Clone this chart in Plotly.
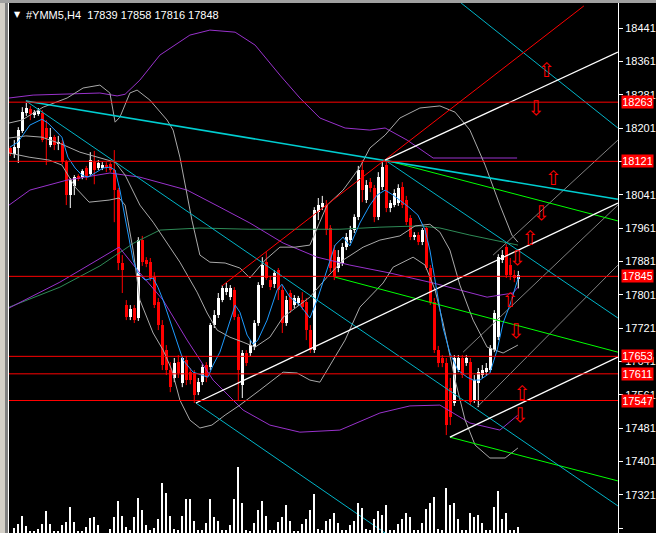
import plotly.graph_objects as go

# ---------------- data ----------------
bar_index = list(range(-1, 127))
opens = [18153,18138,18153,18194,18237,18246,18232,18234,18237,18201,
         18160,18179,18162,18165,18119,18040,18062,18086,18083,18105,
         18090,18119,18105,18105,18112,18114,18100,18052,17877,17776,
         17747,17769,17745,17932,17884,17879,17843,17783,17728,17668,
         17620,17601,17639,17589,17644,17615,17613,17567,17591,17632,
         17627,17728,17752,17788,17807,17795,17812,17747,17584,17661,
         17661,17675,17733,17824,17879,17836,17826,17860,17812,17733,
         17805,17776,17781,17788,17783,17716,17668,17999,18011,18016,
         17961,17908,17865,17877,17915,17932,17956,17987,18100,18028,
         18071,18057,17987,18059,18112,18009,18016,18021,18059,18028,
         17985,17939,17944,17927,17961,17865,17783,17668,17649,17637,
         17577,17541,17620,17649,17637,17639,17548,17589,17608,17615,
         17620,17668,17699,17884,17915,17872,17848,17839]
closes = [18141,18155,18196,18239,18249,18234,18239,18242,18172,18177,
          18179,18160,18167,18119,18040,18076,18083,18078,18098,18083,
          18124,18100,18117,18112,18105,18100,18052,17877,17860,17747,
          17766,17740,17932,17879,17874,17841,17776,17728,17632,17620,
          17579,17637,17613,17649,17596,17596,17560,17591,17627,17603,
          17728,17752,17793,17817,17817,17817,17747,17620,17661,17637,
          17680,17733,17824,17872,17841,17819,17853,17812,17733,17788,
          17764,17793,17793,17771,17716,17668,18004,18016,18021,17956,
          17865,17843,17891,17915,17939,17956,17987,18100,18052,18064,
          18057,17987,18083,18107,18009,18021,18045,18057,18016,17975,
          17939,17944,17927,17956,17865,17783,17668,17637,17637,17488,
          17507,17649,17649,17608,17649,17543,17596,17615,17620,17625,
          17673,17757,17891,17896,17848,17848,17841,17848]
highs = [18158,18172,18203,18251,18261,18254,18244,18249,18244,18220,
         18201,18184,18182,18172,18124,18081,18088,18090,18102,18110,
         18143,18146,18124,18119,18119,18119,18148,18057,17896,17788,
         17776,17776,17939,17942,17891,17889,17855,17793,17740,17680,
         17639,17649,17656,17654,17654,17625,17620,17601,17634,17639,
         17733,17764,17805,17824,17829,17824,17819,17754,17668,17668,
         17692,17740,17831,17891,17903,17846,17860,17865,17824,17798,
         17812,17800,17798,17807,17793,17728,18011,18033,18038,18028,
         17968,17920,17908,17925,17949,17966,17994,18110,18124,18076,
         18081,18064,18095,18119,18124,18028,18054,18066,18071,18038,
         17992,17951,17951,17961,17966,17872,17793,17678,17656,17649,
         17601,17656,17656,17656,17656,17649,17608,17625,17632,17637,
         17680,17764,17898,17908,17922,17889,17860,17858]
lows = [18134,18129,18117,18189,18230,18220,18225,18230,18167,18112,
        18155,18148,18148,18114,18016,18009,18040,18074,18078,18076,
        18086,18066,18100,18100,18095,18095,17975,17860,17805,17740,
        17740,17733,17738,17870,17867,17834,17769,17716,17620,17608,
        17567,17591,17601,17579,17584,17586,17541,17560,17584,17591,
        17620,17721,17745,17783,17800,17788,17740,17548,17553,17630,
        17654,17668,17726,17817,17836,17812,17817,17788,17709,17726,
        17757,17769,17774,17764,17692,17661,17661,17980,18004,17944,
        17855,17836,17855,17870,17908,17925,17949,17980,18023,18021,
        18047,17975,17980,18052,17999,17999,18011,18014,18009,17968,
        17932,17932,17920,17920,17860,17776,17661,17627,17627,17464,
        17488,17534,17615,17601,17630,17536,17541,17531,17601,17608,
        17615,17663,17692,17877,17841,17836,17831,17816]

volume_index = list(range(0, 127))
volumes = [5,9,17,7,2,2,4,9,22,9,2,2,8,11,26,11,2,2,6,15,
           16,8,0,0,4,16,32,17,6,3,16,35,23,8,3,5,14,50,40,17,
           4,3,17,34,34,12,3,3,10,34,16,12,3,3,8,34,66,30,3,2,
           10,23,32,17,3,3,11,16,28,12,2,2,9,14,23,39,4,3,12,
           14,20,10,3,3,8,12,30,25,4,3,14,22,18,28,3,3,9,14,20,
           16,3,3,10,24,30,36,4,3,45,28,30,14,3,3,20,16,18,10,3,
           3,26,42,14,20,3,3,6]

levels = [18263, 18121, 17845, 17653, 17611, 17547]
tick_prices = [17241,17321,17401,17481,17561,17641,17721,17801,
               17881,17961,18041,18121,18201,18281,18361,18441]
# 18121 tick text is covered by the 18121 level label, as in the original
tick_labels = ["17241","17321","17401","17481","17561","17641","17721","17801",
               "17881","17961","18041","","18201","18281","18361","18441"]

# indicator curves (bar index, price)
blue_x = [-1.1,0.9,3.9,6.9,8.4,11.9,13.4,15.2,16.9,18.4,20.2,22.2,23.9,25.2,26.4,28.2,29.7,30.9,32.7,34.7,
          35.9,37.2,39.7,42.2,44.7,47.2,48.4,49.7,51.4,53.2,55.2,56.4,58.2,59.7,60.9,63.2,65.7,66.9,68.9,71.4,
          73.9,75.7,78.2,80.2,82.2,83.9,86.4,88.9,90.7,92.7,94.7,96.4,98.9,100.9,102.7,103.9,105.7,107.2,108.9,110.9,
          113.2,114.7,116.4,118.9,120.7,122.2,123.9,125.7,126.2]
blue_p = [18155,18167,18208,18222,18213,18179,18131,18105,18088,18083,18093,18105,18107,18100,18052,17956,17884,17853,17836,17841,
          17819,17788,17716,17644,17615,17606,17603,17632,17663,17716,17776,17759,17704,17682,17692,17740,17812,17826,17795,17776,
          17745,17788,17860,17920,17939,17918,17973,18016,18040,18052,18040,18028,18009,17992,17956,17908,17807,17721,17661,17620,
          17603,17596,17596,17613,17668,17733,17776,17829,17848]

bb_up_x = [-1.3,1.9,7.2,13.2,17.2,21.4,23.9,25.2,26.4,28.9,30.7,33.9,38.2,39.7,41.4,43.2,44.4,46.4,48.9,52.7,
           56.4,58.9,62.7,66.4,70.2,73.9,78.2,82.2,86.4,88.9,92.7,96.4,101.4,106.4,110.2,113.9,117.7,121.4,124.4,125.9]
bb_up_p = [18213,18220,18251,18273,18297,18304,18285,18215,18227,18285,18292,18268,18220,18196,18131,18035,17980,17896,17879,17877,
           17865,17841,17884,17915,17915,17920,18016,18052,18107,18153,18184,18225,18249,18254,18239,18196,18112,18016,17944,17927]
bb_mid_x = [-1.3,2.9,6.9,11.9,16.4,21.4,25.2,27.7,31.4,34.7,37.7,41.4,45.7,48.2,50.7,53.9,57.2,60.2,63.9,67.2,
            73.9,78.2,82.2,87.2,91.4,96.4,100.2,103.9,106.4,108.9,111.4,114.7,118.2,122.2,125.9]
bb_mid_p = [18177,18182,18179,18162,18143,18129,18119,18088,18016,17975,17932,17879,17807,17757,17716,17699,17687,17675,17699,17747,
            17795,17843,17884,17915,17932,17942,17966,17970,17951,17908,17824,17740,17675,17661,17680]
bb_low_x = [-1.3,3.7,8.7,11.9,15.4,18.7,23.7,26.2,27.7,29.7,31.4,34.7,37.2,39.4,41.4,43.9,46.4,49.4,52.7,56.4,
            61.4,67.2,70.7,73.9,76.4,78.9,82.7,86.4,92.2,94.7,99.7,102.7,105.2,107.2,110.2,112.7,115.2,118.9,122.7,125.9]
bb_low_p = [18141,18131,18124,18112,18057,18023,18028,18033,18016,17908,17788,17709,17668,17620,17548,17500,17481,17488,17512,17536,
            17572,17615,17613,17596,17591,17632,17692,17771,17829,17867,17891,17872,17812,17733,17596,17500,17440,17409,17409,17433]

env_up_x = [-1.3,4.7,21.4,25.7,27.7,31.4,36.4,43.9,48.9,55.2,60.2,66.4,71.4,76.4,82.7,88.9,92.7,98.2,104.7,111.4,125.7]
env_up_p = [18273,18280,18285,18278,18282,18316,18376,18424,18436,18431,18400,18328,18273,18225,18201,18196,18201,18172,18129,18129,18129]
env_mid_x = [-1.3,3.9,13.2,21.4,23.9,31.4,43.2,51.4,58.9,67.2,75.7,83.9,93.9,104.7,111.4,118.2,124.7,125.9]
env_mid_p = [18016,18052,18076,18088,18093,18083,18052,18011,17973,17925,17891,17872,17853,17829,17812,17795,17805,17819]
env_low_x = [-1.3,11.4,26.2,31.4,37.2,43.2,49.7,57.2,63.9,71.4,81.4,91.4,98.9,106.4,113.9,121.4,125.9]
env_low_p = [17769,17831,17915,17853,17788,17692,17596,17524,17488,17471,17476,17517,17534,17536,17493,17476,17512]

slow_x = [-1.3,11.4,21.4,29.9,36.4,46.4,58.9,71.4,81.4,91.4,101.4,106.4,113.9,125.9]
slow_p = [17771,17819,17870,17925,17956,17961,17958,17958,17958,17963,17966,17961,17944,17920]

# trend lines: (x0, p0, x1, p1)
cyan_lines = [(2.9,18266,150.9,18030),(2.9,18266,150.9,17294),(92.7,18124,150.9,17745),
              (45.4,17541,92.7,17229),(111.7,18501,150.9,18201)]
red_diag = [(51.9,17822,142.4,18494)]
white_lines = [(45.4,17541,150.9,18021),(92.7,18124,150.9,18383),(108.9,17459,150.9,17651)]
lime_lines = [(92.7,18124,150.9,17978),(80.2,17843,150.9,17663),(108.9,17459,150.9,17354)]
gray_lines = [(112.2,17663,150.9,18016),(115.7,17531,150.9,17872),(119.7,17896,150.9,18172)]

arrow_up = [(133.0,18335),(134.7,18076),(128.9,17932),(123.9,17783),(126.9,17560)]
arrow_dn = [(130.4,18244),(131.7,17992),(125.7,17884),(125.4,17709),(126.4,17508)]

title_text = "#YMM5,H4\u00a0\u00a017839 17858 17816 17848"

# ---------------- figure ----------------
W, H = 656, 533
ML, MR, MT, MB = 9, 38, 3, 0
PW = W - ML - MR
PH = H - MT - MB
XR = [-1.325, 150.925]
YR = [17229, 18501]

fig = go.Figure()

# volume histogram
fig.add_trace(go.Bar(x=volume_index, y=volumes, width=0.25, marker=dict(color="#ffffff", line=dict(width=0)),
                     yaxis="y2", hoverinfo="skip", showlegend=False))

def seg_trace(lines, color, width):
    xs, ys = [], []
    for (x0, p0, x1, p1) in lines:
        xs += [x0, x1, None]
        ys += [p0, p1, None]
    return go.Scatter(x=xs, y=ys, mode="lines", line=dict(color=color, width=width),
                      hoverinfo="skip", showlegend=False)

# candles
for bull, col in [(True, "#ffffff"), (False, "#ff0000")]:
    wx, wy, bx, bb, bh = [], [], [], [], []
    for i, o, h, l, c in zip(bar_index, opens, highs, lows, closes):
        if (c >= o) != bull:
            continue
        wx += [i, i, None]
        wy += [l, h, None]
        bx.append(i)
        bb.append(min(o, c))
        bh.append(max(abs(c - o), 1.5))
    fig.add_trace(go.Scatter(x=wx, y=wy, mode="lines", line=dict(color=col, width=1),
                             hoverinfo="skip", showlegend=False))
    fig.add_trace(go.Bar(x=bx, y=bh, base=bb, width=0.75, marker=dict(color=col, line=dict(width=0)),
                         hoverinfo="skip", showlegend=False))

# curves
def curve(xs, ps, color, width=1):
    fig.add_trace(go.Scatter(x=xs, y=ps, mode="lines", line=dict(color=color, width=width),
                             hoverinfo="skip", showlegend=False))

curve(slow_x, slow_p, "#2e8b57")
curve(env_up_x, env_up_p, "#9932cc")
curve(env_mid_x, env_mid_p, "#9932cc")
curve(env_low_x, env_low_p, "#9932cc")
curve(bb_up_x, bb_up_p, "#a9a9a9")
curve(bb_mid_x, bb_mid_p, "#a9a9a9")
curve(bb_low_x, bb_low_p, "#a9a9a9")

fig.add_trace(seg_trace(gray_lines, "#808080", 1))
fig.add_trace(seg_trace(lime_lines, "#00ff00", 1))
fig.add_trace(seg_trace(cyan_lines[:1], "#00ced1", 1.6))
fig.add_trace(seg_trace(cyan_lines[1:], "#00b4c8", 1))
fig.add_trace(seg_trace(red_diag, "#ff0000", 1))
fig.add_trace(seg_trace(white_lines, "#ffffff", 1.3))

curve(blue_x, blue_p, "#1e9bff")

# horizontal levels
fig.add_trace(seg_trace([(XR[0], lv, XR[1], lv) for lv in levels], "#ff0000", 1))

# arrows
fig.add_trace(go.Scatter(x=[a[0] for a in arrow_up], y=[a[1] for a in arrow_up], mode="text",
                         text=["\u21e7"] * len(arrow_up), textposition="middle center",
                         textfont=dict(color="#ff0000", size=20, family="DejaVu Sans"),
                         hoverinfo="skip", showlegend=False))
fig.add_trace(go.Scatter(x=[a[0] for a in arrow_dn], y=[a[1] for a in arrow_dn], mode="text",
                         text=["\u21e9"] * len(arrow_dn), textposition="middle center",
                         textfont=dict(color="#ff0000", size=20, family="DejaVu Sans"),
                         hoverinfo="skip", showlegend=False))

FONT = "Liberation Sans"

annotations = []
for lv in levels:
    annotations.append(dict(x=1, xref="paper", y=lv, yref="y", xanchor="left", yanchor="middle",
                            xshift=3, text=str(lv), showarrow=False, bgcolor="#ff0000",
                            font=dict(color="#ffffff", size=11, family=FONT),
                            width=29, height=10, borderpad=1, align="center"))

def px_x(px):
    return (px - ML) / PW

def px_y(py):
    return (H - MB - py) / PH

annotations.append(dict(x=px_x(17), y=px_y(15), xref="paper", yref="paper", text="\u25bc",
                        showarrow=False, xanchor="center", yanchor="middle",
                        font=dict(color="#ffffff", size=8, family="DejaVu Sans")))
annotations.append(dict(x=px_x(24), y=px_y(15), xref="paper", yref="paper", text=title_text,
                        showarrow=False, xanchor="left", yanchor="middle",
                        font=dict(color="#ffffff", size=11, family=FONT)))

shapes = [
    dict(type="rect", xref="paper", yref="paper", x0=px_x(0), x1=px_x(5), y0=0, y1=px_y(0),
         fillcolor="#d4d0c8", line=dict(width=0), layer="above"),
    dict(type="rect", xref="paper", yref="paper", x0=px_x(5), x1=px_x(8), y0=0, y1=px_y(0),
         fillcolor="#808080", line=dict(width=0), layer="above"),
    dict(type="rect", xref="paper", yref="paper", x0=px_x(0), x1=px_x(W), y0=px_y(3), y1=px_y(0),
         fillcolor="#a0a0a0", line=dict(width=0), layer="above"),
]

fig.update_layout(
    template="none",
    width=W, height=H,
    margin=dict(l=ML, r=MR, t=MT, b=MB, pad=0),
    paper_bgcolor="#000000", plot_bgcolor="#000000",
    barmode="overlay", bargap=0,
    showlegend=False,
    xaxis=dict(range=XR, visible=False, showgrid=False, zeroline=False, fixedrange=True),
    yaxis=dict(range=YR, side="right", tickmode="array", tickvals=tick_prices,
               ticktext=tick_labels, ticks="outside", ticklen=4,
               tickcolor="#ffffff", tickwidth=1,
               tickfont=dict(color="#ffffff", size=11, family=FONT),
               showgrid=False, zeroline=False, showline=True, mirror=True,
               linecolor="#ffffff", linewidth=1, fixedrange=True, automargin=False),
    yaxis2=dict(range=[0, PH], overlaying="y", visible=False, fixedrange=True),
    annotations=annotations,
    shapes=shapes,
)

fig.write_html("out.html",
               config={"displayModeBar": False},
               post_script="document.body.style.margin='0px';document.body.style.overflow='hidden';")
